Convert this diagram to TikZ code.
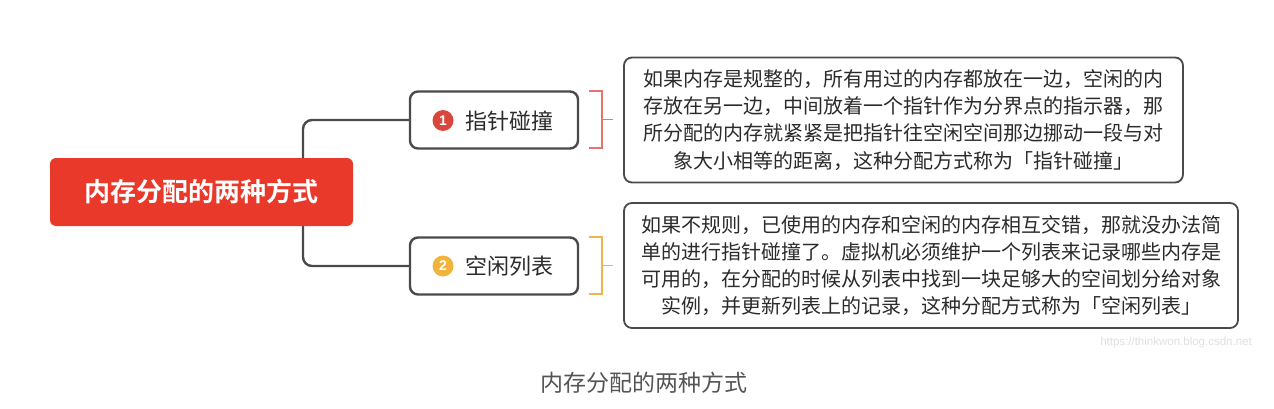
\documentclass[tikz,border=0pt]{standalone}
\usepackage{fontspec}
\setmainfont{Noto Sans CJK SC}
\newfontfamily\cjkbold{Noto Sans CJK SC Bold}
\newfontfamily\latinsans{Liberation Sans}
\usetikzlibrary{calc}
\definecolor{rootred}{HTML}{E8392B}
\definecolor{bordergray}{HTML}{4A4A4A}
\definecolor{brkred}{HTML}{E8726C}
\definecolor{brkorange}{HTML}{EDB64C}
\definecolor{badgered}{HTML}{D9473C}
\definecolor{badgeorange}{HTML}{F0B43C}
\definecolor{textdark}{HTML}{2B2B2B}
\definecolor{capgray}{HTML}{555555}
\tikzset{
  rootbox/.style={fill=rootred, draw=none, rounded corners=6pt, minimum width=303pt, minimum height=68pt, inner sep=0pt},
  labelbox/.style={draw=bordergray, line width=2.4pt, rounded corners=8pt, fill=white, minimum width=168pt, minimum height=57pt, inner sep=0pt},
  descbox/.style={draw=bordergray, line width=1.8pt, rounded corners=8pt, fill=white, minimum height=125pt, inner sep=0pt, align=center, font=\fontsize{20}{27.2}\selectfont, text=textdark},
  conn/.style={draw=bordergray, line width=2.4pt, rounded corners=9pt},
  badge/.style={circle, minimum size=21pt, inner sep=0pt, text=white, font=\latinsans\bfseries\fontsize{14}{14}\selectfont},
  labeltext/.style={anchor=west, inner sep=0pt, font=\fontsize{22}{22}\selectfont, text=textdark},
  brk/.style={line width=1.8pt},
}
\begin{document}
\begin{tikzpicture}[x=1pt,y=-1pt]
\useasboundingbox[fill=white] (0,0) rectangle (1274,409);
% nodes
\node[labelbox] (b1) at (494,120) {};
\node[labelbox] (b2) at (494,266) {};
\coordinate (j) at (303,192);
\draw[conn] (b1.west) -| (j) |- (b2.west);
\node[rootbox] (root) at (201.5,192) {\cjkbold\fontsize{26}{26}\selectfont\color{white}内存分配的两种方式};
\node[badge, fill=badgered] (n1) at (443,120.5) {1};
\node[labeltext] (t1) at (465,121) {指针碰撞};
\node[badge, fill=badgeorange] (n2) at (443,266) {2};
\node[labeltext] (t2) at (465,266) {空闲列表};
% brackets
\coordinate (k1a) at (589,91);
\coordinate (k1b) at (589,148);
\coordinate (k1t) at (613,119.5);
\draw[brk, draw=brkred] (k1a) -- (602,91) -- (602,148) -- (k1b);
\draw[brk, draw=brkred] (602,119.5) -- (k1t);
\coordinate (k2a) at (589,237);
\coordinate (k2b) at (589,294);
\coordinate (k2t) at (613,265.5);
\draw[brk, draw=brkorange] (k2a) -- (602,237) -- (602,294) -- (k2b);
\draw[brk, draw=brkorange] (602,265.5) -- (k2t);
% descriptions
\node[descbox, minimum width=559pt] (d1) at (903.5,120) {如果内存是规整的，所有用过的内存都放在一边，空闲的内\\存放在另一边，中间放着一个指针作为分界点的指示器，那\\所分配的内存就紧紧是把指针往空闲空间那边挪动一段与对\\象大小相等的距离，这种分配方式称为「指针碰撞」};
\node[descbox, minimum width=614pt] (d2) at (931,265.5) {如果不规则，已使用的内存和空闲的内存相互交错，那就没办法简\\单的进行指针碰撞了。虚拟机必须维护一个列表来记录哪些内存是\\可用的，在分配的时候从列表中找到一块足够大的空间划分给对象\\实例，并更新列表上的记录，这种分配方式称为「空闲列表」};
% caption and watermark
\node[text=capgray, font=\fontsize{23}{23}\selectfont, inner sep=0pt] (cap) at (644,383) {内存分配的两种方式};
\node[text=black!12, font=\latinsans\fontsize{11.5}{11.5}\selectfont, inner sep=0pt] (wm) at (1176,343) {https://thinkwon.blog.csdn.net};
\end{tikzpicture}
\end{document}
